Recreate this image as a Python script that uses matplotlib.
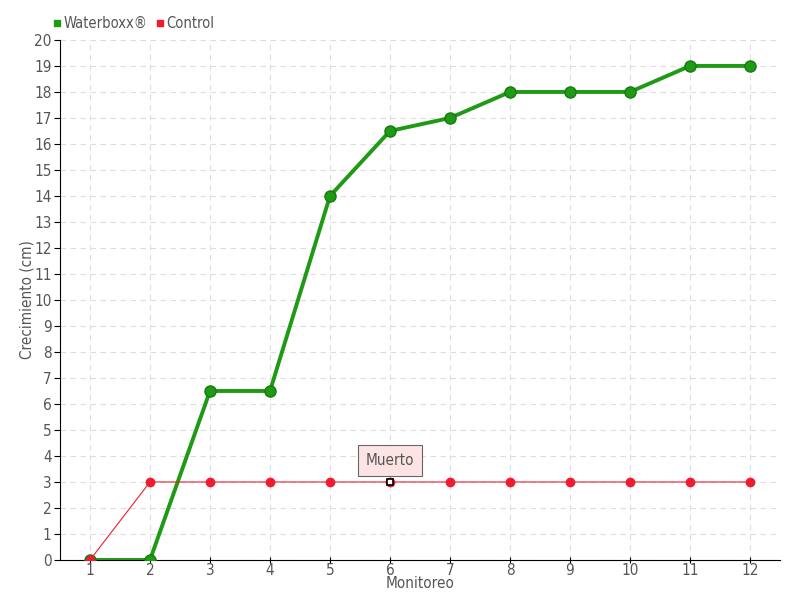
import matplotlib
matplotlib.use("Agg")
import matplotlib.pyplot as plt
from matplotlib.lines import Line2D

# data
monitoreo = [1, 2, 3, 4, 5, 6, 7, 8, 9, 10, 11, 12]
waterboxx = [0, 0, 6.5, 6.5, 14, 16.5, 17, 18, 18, 18, 19, 19]
control = [0, 3, 3, 3, 3, 3, 3, 3, 3, 3, 3, 3]
muerto_idx = 5  # monitoreo 6

plt.rcParams['font.family'] = ['DejaVu Sans']
plt.rcParams['font.stretch'] = 'condensed'
txt = '#555555'

fig = plt.figure(figsize=(8, 6), dpi=100)
ax = fig.add_axes([0.075, 0.0667, 0.9, 0.8667])

green = '#1f9a14'
red = '#ee1c2e'

ax.plot(monitoreo, waterboxx, color=green, lw=2.8, marker='o', ms=8,
        markerfacecolor='#1f9a14', markeredgecolor='#167a10', zorder=3)
ax.plot(monitoreo, control, color=red, lw=0.8, marker='o', ms=6,
        markerfacecolor=red, markeredgecolor=red, zorder=4)
ax.plot(monitoreo[muerto_idx], control[muerto_idx], marker='s', ms=4,
        markerfacecolor='white', markeredgecolor='black', mew=1.2, zorder=5)

ax.annotate('Muerto', xy=(monitoreo[muerto_idx], control[muerto_idx]),
            xytext=(0, 15.5), textcoords='offset points', ha='center', va='center',
            fontsize=11, color=txt,
            bbox=dict(boxstyle='square,pad=0.5', fc='#fde4e4', ec='#666666', lw=0.8),
            zorder=6)

ax.set_xlim(0.5, 12.5)
ax.set_ylim(0, 20)
ax.set_xticks(monitoreo)
ax.set_yticks(range(0, 21))
ax.grid(True, color='#dddddd', ls=(0, (5, 4)), lw=0.8)
ax.set_axisbelow(True)
for s in ['top', 'right']:
    ax.spines[s].set_visible(False)
ax.spines['left'].set_color('black')
ax.spines['bottom'].set_color('black')
ax.tick_params(axis='both', colors='black', labelcolor=txt, labelsize=11, length=4)
ax.tick_params(axis='x', direction='inout', pad=0)
ax.tick_params(axis='y', pad=2)

ax.set_xlabel('Monitoreo', color=txt, fontsize=11, labelpad=-1)
ax.set_ylabel('Crecimiento (cm)', color=txt, fontsize=11, labelpad=0)

handles = [Line2D([], [], ls='none', marker='s', ms=5, color=green, label='Waterboxx®'),
           Line2D([], [], ls='none', marker='s', ms=5, color=red, label='Control')]
leg = fig.legend(handles=handles, loc='upper left', bbox_to_anchor=(0.05, 0.995),
                 ncol=2, frameon=False, handlelength=0.5, handletextpad=0.2,
                 columnspacing=0.6, fontsize=10.5)
for t in leg.get_texts():
    t.set_color(txt)

fig.savefig('out.png', dpi=100)
